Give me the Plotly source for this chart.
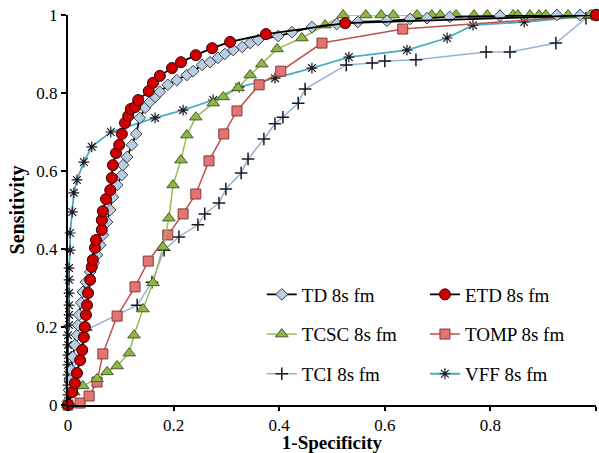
import plotly.graph_objects as go

# ---------------- data ----------------
td_x = [0, 0.002, 0.004, 0.006, 0.009, 0.013, 0.017, 0.019, 0.021, 0.025, 0.028, 0.034, 0.042, 0.049,
        0.055, 0.061, 0.066, 0.074, 0.080, 0.085, 0.093, 0.102, 0.104, 0.112, 0.121, 0.129, 0.136,
        0.146, 0.155, 0.165, 0.174, 0.189, 0.206, 0.225, 0.237, 0.254, 0.269, 0.284, 0.297, 0.313,
        0.330, 0.345, 0.360, 0.398, 0.424, 0.462, 0.509, 0.549, 0.604, 0.648, 0.680, 0.723, 0.818,
        0.926, 0.970, 1.0]
td_y = [0, 0.038, 0.064, 0.090, 0.123, 0.154, 0.179, 0.205, 0.231, 0.262, 0.290, 0.315, 0.341, 0.364,
        0.385, 0.410, 0.436, 0.469, 0.500, 0.533, 0.564, 0.590, 0.615, 0.636, 0.667, 0.695, 0.736,
        0.762, 0.777, 0.790, 0.803, 0.821, 0.833, 0.846, 0.856, 0.872, 0.879, 0.890, 0.900, 0.910,
        0.918, 0.928, 0.936, 0.946, 0.956, 0.969, 0.977, 0.982, 0.985, 0.990, 0.992, 0.995, 0.998,
        1.0, 1.0, 1.0]

etd_x = [0, 0.008, 0.013, 0.017, 0.023, 0.027, 0.030, 0.032, 0.034, 0.036, 0.038, 0.042, 0.045, 0.047,
         0.051, 0.053, 0.064, 0.064, 0.066, 0.072, 0.080, 0.083, 0.085, 0.091, 0.097, 0.102, 0.108,
         0.114, 0.119, 0.127, 0.133, 0.153, 0.161, 0.174, 0.197, 0.214, 0.242, 0.273, 0.307, 0.375,
         0.525, 1.0]
etd_y = [0, 0.033, 0.056, 0.082, 0.115, 0.141, 0.174, 0.200, 0.231, 0.256, 0.287, 0.321, 0.354, 0.372,
         0.403, 0.423, 0.449, 0.474, 0.497, 0.528, 0.551, 0.582, 0.615, 0.646, 0.667, 0.695, 0.723,
         0.741, 0.759, 0.764, 0.782, 0.805, 0.826, 0.844, 0.864, 0.879, 0.897, 0.915, 0.931, 0.951,
         0.979, 1.0]

tcsc_x = [0, 0.011, 0.028, 0.055, 0.074, 0.093, 0.116, 0.125, 0.142, 0.161, 0.180, 0.191, 0.199,
          0.214, 0.225, 0.242, 0.275, 0.294, 0.322, 0.345, 0.367, 0.396, 0.443, 0.487, 0.521, 0.564,
          0.593, 0.616, 0.661, 0.689, 0.705, 0.735, 0.769, 0.794, 0.818, 0.843, 0.852, 0.875, 0.892,
          0.905, 0.926, 0.947, 0.970, 0.989, 1.0]
tcsc_y = [0, 0.033, 0.049, 0.067, 0.085, 0.100, 0.133, 0.179, 0.246, 0.313, 0.405, 0.479, 0.564,
          0.628, 0.692, 0.738, 0.774, 0.790, 0.813, 0.846, 0.874, 0.913, 0.941, 0.974, 1.0, 1.0,
          1.0, 1.0, 1.0, 1.0, 1.0, 1.0, 1.0, 1.0, 1.0, 1.0, 1.0, 1.0, 1.0,
          1.0, 1.0, 1.0, 1.0, 1.0, 1.0]

tomp_x = [0, 0.023, 0.040, 0.055, 0.066, 0.093, 0.127, 0.152, 0.189, 0.218, 0.242, 0.267, 0.295,
          0.320, 0.362, 0.403, 0.481, 0.634, 1.0]
tomp_y = [0, 0.005, 0.023, 0.059, 0.131, 0.228, 0.303, 0.369, 0.436, 0.490, 0.541, 0.626, 0.695,
          0.754, 0.821, 0.856, 0.928, 0.964, 1.0]

tci_x = [0, 0.004, 0.034, 0.131, 0.159, 0.182, 0.210, 0.246, 0.259, 0.286, 0.299, 0.328, 0.341,
         0.371, 0.392, 0.407, 0.436, 0.449, 0.527, 0.576, 0.600, 0.659, 0.792, 0.837, 0.924, 0.981, 1.0]
tci_y = [0, 0.064, 0.192, 0.256, 0.315, 0.397, 0.431, 0.462, 0.490, 0.518, 0.554, 0.595, 0.631,
         0.682, 0.721, 0.738, 0.774, 0.810, 0.872, 0.877, 0.882, 0.885, 0.905, 0.905, 0.928, 0.992, 1.0]

vff_x = [0, 0, 0, 0, 0, 0, 0, 0, 0.002, 0.002, 0.002, 0.002, 0.002, 0.002, 0.004, 0.004, 0.008,
         0.011, 0.017, 0.030, 0.045, 0.081, 0.165, 0.218, 0.275, 0.324, 0.392, 0.462, 0.532, 0.642,
         0.718, 0.767, 0.864, 1.0]
vff_y = [0, 0.026, 0.051, 0.077, 0.103, 0.128, 0.154, 0.179, 0.205, 0.231, 0.256, 0.287, 0.321,
         0.351, 0.397, 0.441, 0.495, 0.544, 0.577, 0.623, 0.662, 0.700, 0.736, 0.756, 0.782, 0.815,
         0.838, 0.864, 0.892, 0.910, 0.941, 0.974, 0.982, 1.0]

series_names = ["TD 8s fm", "ETD 8s fm", "TCSC 8s fm", "TOMP 8s fm", "TCI 8s fm", "VFF 8s fm"]
x_ticks = [0, 0.2, 0.4, 0.6, 0.8, 1]
x_tick_text = ["0", "0.2", "0.4", "0.6", "0.8", "1"]
y_ticks = [0, 0.2, 0.4, 0.6, 0.8, 1]
y_tick_text = ["0", "0.2", "0.4", "0.6", "0.8", "1"]

FONT = "Liberation Serif"
OUT = "#1a1a1a"

fig = go.Figure()

def add(x, y, name, line_color, line_w, symbol, size, fill, mline_color, mline_w, legend, rank):
    fig.add_trace(go.Scatter(
        x=x, y=y, name=name, mode="lines+markers", cliponaxis=False,
        line=dict(color=line_color, width=line_w),
        marker=dict(symbol=symbol, size=size, color=fill,
                    line=dict(color=mline_color, width=mline_w)),
        legend=legend, legendgroup=name, legendrank=rank,
    ))

add(tci_x, tci_y, series_names[4], "#95b3d7", 1.5, "cross-thin-open", 9, OUT, "#333333", 1.5, "legend", 3)
add(vff_x, vff_y, series_names[5], "#4bacc6", 1.8, "asterisk-open", 9, OUT, "#333333", 1.2, "legend2", 3)
add(tomp_x, tomp_y, series_names[3], "#c0504d", 1.5, "square", 10, "#e57373", "#7f3a38", 1, "legend2", 2)
add(tcsc_x, tcsc_y, series_names[2], "#9bbb59", 1.5, "triangle-up", 11, "#8db646", "#4b5e28", 1, "legend", 2)
add(td_x, td_y, series_names[0], "#000000", 1.8, "diamond", 9, "#b9cde5", "#404040", 1, "legend", 1)
add(etd_x, etd_y, series_names[1], "#000000", 1.8, "circle", 11, "#d00000", "#300000", 1, "legend2", 1)

leg_common = dict(font=dict(family=FONT, size=19, color="#000000"), bgcolor="rgba(0,0,0,0)",
                  traceorder="grouped", tracegroupgap=12, yanchor="top", itemwidth=30)

fig.update_layout(
    width=599, height=453,
    margin=dict(l=68, r=3, t=15, b=48),
    paper_bgcolor="white", plot_bgcolor="white",
    font=dict(family=FONT, color="#000000"),
    legend=dict(x=0.367, y=0.332, **leg_common),
    legend2=dict(x=0.676, y=0.332, **leg_common),
    xaxis=dict(range=[0, 1], tickvals=x_ticks, ticktext=x_tick_text, showgrid=False, zeroline=False,
               automargin=False,
               showline=True, linecolor="black", linewidth=2, ticks="outside", ticklen=4,
               tickcolor="black", tickwidth=1.5, tickfont=dict(family=FONT, size=17),
               title=dict(text="<b>1-Specificity</b>", font=dict(family=FONT, size=19), standoff=10)),
    yaxis=dict(range=[0, 1], tickvals=y_ticks, ticktext=y_tick_text, showgrid=False, zeroline=False,
               automargin=False,
               showline=True, linecolor="black", linewidth=2, ticks="outside", ticklen=5,
               tickcolor="black", tickwidth=1.5, tickfont=dict(family=FONT, size=17),
               title=dict(text="<b>Sensitivity</b>", font=dict(family=FONT, size=20), standoff=6)),
)

# axis arrow heads
fig.add_annotation(x=1.005, y=0, xref="x", yref="y", text="", showarrow=True, ax=-12, ay=0,
                   arrowhead=2, arrowsize=1, arrowwidth=2, arrowcolor="black")
fig.add_annotation(x=0, y=1.008, xref="x", yref="y", text="", showarrow=True, ax=0, ay=12,
                   arrowhead=2, arrowsize=1, arrowwidth=2, arrowcolor="black")

fig.write_html("out.html", config={"displayModeBar": False},
               post_script="document.body.style.margin='0';document.body.style.overflow='hidden';")
